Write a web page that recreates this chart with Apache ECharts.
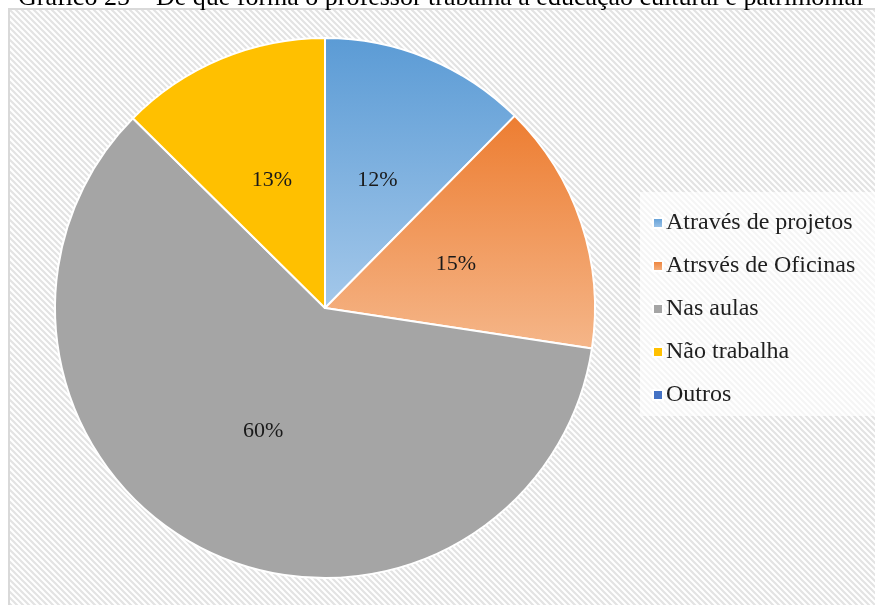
<!DOCTYPE html>
<html>
<head>
<meta charset="utf-8">
<script src="https://cdn.jsdelivr.net/npm/echarts@6/dist/echarts.min.js"></script>
<style>
  html, body { margin: 0; padding: 0; background: #fff; }
  #chart { width: 875px; height: 605px; }
</style>
</head>
<body>
<div id="chart"></div>
<script>
// dados do gráfico
var categorias = ['Através de projetos', 'Atrsvés de Oficinas', 'Nas aulas', 'Não trabalha', 'Outros'];
var valores = [12.4, 15, 60, 12.6, 0];
var titulo = 'Gráfico 25 – De que forma o professor trabalha a educação cultural e patrimonial';

// cores de cada fatia (gradiente nas duas primeiras)
var cores = [
  new echarts.graphic.LinearGradient(0, 0, 0, 1, [
    { offset: 0, color: '#5b9bd5' },
    { offset: 1, color: '#a4c8ea' }
  ]),
  new echarts.graphic.LinearGradient(0, 0, 0, 1, [
    { offset: 0, color: '#ed7d31' },
    { offset: 1, color: '#f5b689' }
  ]),
  '#a5a5a5',
  '#ffc000',
  '#4472c4'
];

// fundo hachurado
var hachura = document.createElement('canvas');
hachura.width = 6;
hachura.height = 6;
var ctx = hachura.getContext('2d');
ctx.fillStyle = '#ffffff';
ctx.fillRect(0, 0, 6, 6);
ctx.strokeStyle = '#e3e3e3';
ctx.lineWidth = 2.2;
ctx.beginPath();
ctx.moveTo(-1, -1); ctx.lineTo(7, 7);
ctx.moveTo(-4, 2); ctx.lineTo(2, 8);
ctx.moveTo(4, -2); ctx.lineTo(10, 4);
ctx.stroke();

var chart = echarts.init(document.getElementById('chart'));

var dados = categorias.map(function (nome, i) {
  return { name: nome, value: valores[i], itemStyle: { color: cores[i] } };
});

var option = {
  backgroundColor: { image: hachura, repeat: 'repeat' },
  animation: false,
  graphic: [
    { type: 'rect', shape: { x: 0, y: 0, width: 875, height: 8 }, style: { fill: '#fff' }, z: -1 },
    { type: 'rect', shape: { x: 0, y: 0, width: 8, height: 605 }, style: { fill: '#fff' }, z: -1 },
    { type: 'rect', shape: { x: 9, y: 9, width: 880, height: 610 }, style: { fill: 'none', stroke: '#d9d9d9', lineWidth: 2 }, z: -1 },
    {
      type: 'text', x: 18, y: 11,
      style: { text: titulo, font: '26px "Liberation Serif"', fill: '#000', verticalAlign: 'bottom' }
    }
  ],
  // legenda à direita
  legend: {
    orient: 'vertical',
    left: 640,
    top: 192,
    padding: [19, 40, 9, 12],
    backgroundColor: 'rgba(255,255,255,0.65)',
    itemWidth: 10,
    itemHeight: 10,
    itemGap: 19,
    icon: 'rect',
    data: categorias,
    textStyle: {
      fontFamily: 'Liberation Serif',
      fontSize: 24,
      lineHeight: 24,
      color: '#1f1f1f',
      padding: [0, 0, 0, -2]
    }
  },
  series: [{
    type: 'pie',
    center: [325, 308],
    radius: 270,
    startAngle: 90,
    clockwise: true,
    data: dados,
    itemStyle: { borderColor: '#fff', borderWidth: 2 },
    label: {
      show: true,
      position: 'inside',
      formatter: function (p) { return p.value > 0 ? Math.round(p.value) + '%' : ''; },
      fontFamily: 'Liberation Serif',
      fontSize: 22,
      color: '#1a1a1a'
    },
    labelLine: { show: false },
    emphasis: { disabled: true }
  }]
};

chart.setOption(option);
</script>
</body>
</html>
